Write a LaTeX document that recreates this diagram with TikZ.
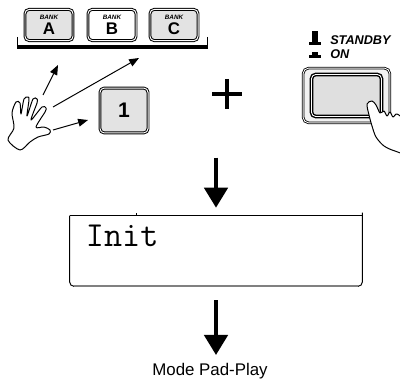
\documentclass[tikz,border=0pt]{standalone}
\usepackage{fontspec}
\setmainfont{Liberation Sans}
\usetikzlibrary{arrows.meta}

\begin{document}
\begin{tikzpicture}[
  x=0.025cm, y=-0.025cm,
  key/.style={draw, rounded corners=3pt, line width=0.7pt, double, double distance=0.7pt,
    fill=gray!22, inner sep=0pt, align=center},
  bankkey/.style={key, minimum width=1.2cm, minimum height=0.78cm},
  thinarrow/.style={-{Triangle[length=7pt,width=5.5pt]}, line width=0.7pt},
  bigarrow/.style={-{Triangle[length=0.5cm,width=0.58cm]}, line width=0.1cm},
  hand/.style={draw, fill=white, line width=0.7pt, line join=round}
]
\clip (0,0) rectangle (400,379);
% Bank keys
\node[bankkey] (bankA) at (49,25) {{\fontsize{4.5}{5}\selectfont\bfseries\itshape BANK}\\[-1pt]{\fontsize{12}{12}\selectfont\bfseries A}};
\node[bankkey, fill=white] (bankB) at (112,25) {{\fontsize{4.5}{5}\selectfont\bfseries\itshape BANK}\\[-1pt]{\fontsize{12}{12}\selectfont\bfseries B}};
\node[bankkey] (bankC) at (174,25) {{\fontsize{4.5}{5}\selectfont\bfseries\itshape BANK}\\[-1pt]{\fontsize{12}{12}\selectfont\bfseries C}};
% bracket under the bank keys
\draw (17,37) -- (17,48);
\draw (207,37) -- (207,48);
\draw[line width=0.1cm] (17,47.5) -- (208,47.5);

% Key 1
\node[key, minimum width=1.2cm, minimum height=1.12cm] (keyone) at (124,110.5) {\fontsize{15}{15}\selectfont\bfseries 1};

% Open hand
\draw[hand] plot[smooth cycle, tension=0.5] coordinates {
  (8,140) (14,128) (12,113) (16,102) (20,103) (21,114) (24,99) (28,97) (29,100)
  (27,116) (33,99) (37,99) (37,103) (31,120) (42,107) (46,108) (45,112) (36,127)
  (44,127) (50,130) (49,134) (38,137) (30,142) (20,150)};
\coordinate (fingerA) at (43,95);
\coordinate (fingerB) at (53,107);
\coordinate (thumb) at (53,130);
\coordinate (tipA) at (58,65);
\coordinate (tipB) at (139,58);
\coordinate (tipone) at (88,120);
\draw[thinarrow] (fingerA) -- (tipA);
\draw[thinarrow] (fingerB) -- (tipB);
\draw[thinarrow] (thumb) -- (tipone);

% Plus
\draw[line width=0.1cm] (212,94) -- (242,94) (227,79) -- (227,109);

% Standby switch
\fill (312,31) rectangle (318,42);
\fill (309,42) rectangle (321,45);
\fill (312,52) rectangle (318,55);
\fill (309,55) rectangle (321,58);
\node[anchor=base west, inner sep=0pt, font=\fontsize{9}{9}\selectfont\bfseries\itshape] (standbylabel) at (330,45) {STANDBY};
\node[anchor=base west, inner sep=0pt, font=\fontsize{9}{9}\selectfont\bfseries\itshape] (onlabel) at (330,59) {ON};
\node[draw, rounded corners=4pt, line width=0.6pt, double, double distance=0.6pt, fill=gray!10,
  minimum width=2.17cm, minimum height=1.37cm] (standby) at (346.5,95.5) {};
\node[draw, rounded corners=3pt, line width=1pt, double, double distance=0.6pt, fill=gray!25,
  minimum width=1.75cm, minimum height=1.05cm] (standbypad) at (standby.center) {};
% Pointing hand
\draw[hand] plot[smooth cycle, tension=0.5] coordinates {
  (404,122) (397,114) (393,117) (390,112) (387,116) (384,111) (380,113) (376,105)
  (372,101) (367,104) (369,115) (372,126) (376,137) (384,146) (395,151) (406,152)};

% Display
\node[minimum width=7.3cm, minimum height=1.75cm, inner sep=0pt] (lcd) at (216,251) {};
\draw[line width=0.7pt, rounded corners=3pt] (lcd.north west) -- (lcd.south west) -- (lcd.south east) -- ([yshift=0.08cm]lcd.north east);
\draw[line width=0.7pt] (lcd.north west) -- (lcd.north east);
\draw[gray, line width=1.4pt] ([xshift=3pt]lcd.south west) -- ([xshift=-3pt]lcd.south east);
\draw[line width=0.5pt] ([xshift=1.675cm]lcd.north west) -- ++(0,-3);
\node[anchor=north west, inner sep=0pt, font=\ttfamily\fontsize{25}{25}\selectfont] (lcdtext) at ([xshift=0.4cm, yshift=-0.225cm]lcd.north west) {Init};

% Result
\node[anchor=north, inner sep=0pt, font=\fontsize{12}{14}\selectfont] (modename) at (210,363) {Mode Pad-Play};
\draw[bigarrow] ([yshift=1.45cm]lcd.north) -- ([yshift=0.2cm]lcd.north);
\draw[bigarrow] ([yshift=-0.35cm]lcd.south) -- ([yshift=0.2cm]lcd.south |- modename.north);
\end{tikzpicture}
\end{document}
